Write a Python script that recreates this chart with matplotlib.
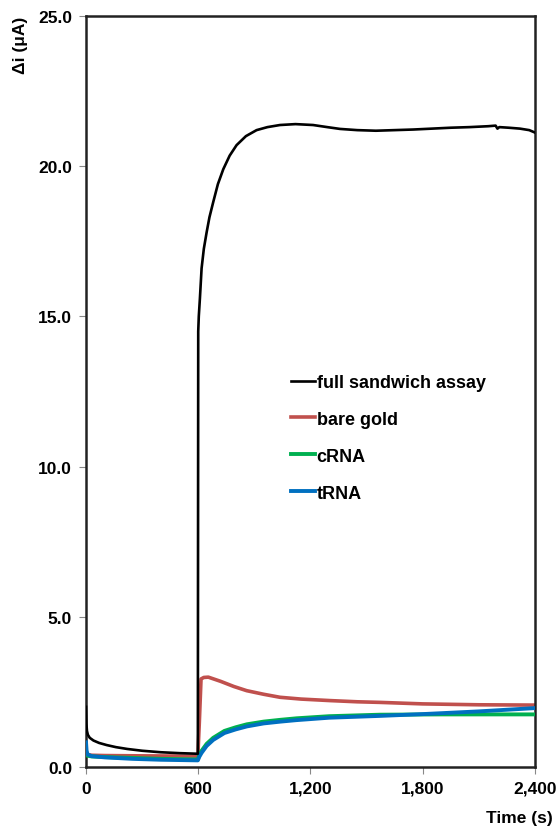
import matplotlib

matplotlib.use("Agg")
import matplotlib.pyplot as plt
from matplotlib.ticker import FuncFormatter, MultipleLocator

plt.rcParams["font.family"] = ["Liberation Sans", "DejaVu Sans"]
plt.rcParams["font.weight"] = "bold"

# values
t_full = [0, 2, 5, 10, 20, 40, 70, 110, 160, 220, 300, 400, 500, 598, 600, 603, 609, 618, 630,
          645, 660, 680, 705, 734, 768, 805, 855, 912, 970, 1037, 1120, 1214, 1290, 1358, 1450,
          1550, 1650, 1750, 1850, 1950, 2050, 2150, 2190, 2200, 2210, 2260, 2320, 2370, 2400]
full = [2.0, 1.45, 1.2, 1.07, 0.97, 0.88, 0.8, 0.73, 0.66, 0.6, 0.54, 0.49, 0.46, 0.44, 14.5, 15.0,
        15.6, 16.6, 17.25, 17.8, 18.3, 18.8, 19.4, 19.9, 20.35, 20.7, 21.0, 21.2, 21.3, 21.37,
        21.4, 21.37, 21.3, 21.24, 21.2, 21.18, 21.2, 21.22, 21.25, 21.28, 21.3, 21.33, 21.35,
        21.25, 21.3, 21.28, 21.25, 21.2, 21.12]

t_gold = [0, 5, 30, 100, 300, 598, 606, 615, 630, 654, 720, 790, 859, 950, 1037, 1150, 1304, 1450,
          1571, 1800, 2100, 2400]
gold = [0.5, 0.42, 0.39, 0.38, 0.37, 0.36, 1.5, 2.93, 2.98, 2.99, 2.85, 2.68, 2.54, 2.42, 2.32,
        2.26, 2.21, 2.17, 2.15, 2.1, 2.07, 2.06]

t_crna = [0, 5, 30, 100, 250, 400, 598, 605, 618, 645, 680, 740, 800, 860, 950, 1040, 1126, 1300,
          1571, 1900, 2200, 2400]
crna = [0.45, 0.38, 0.35, 0.33, 0.3, 0.27, 0.25, 0.38, 0.54, 0.77, 0.97, 1.2, 1.32, 1.42, 1.51,
        1.57, 1.62, 1.69, 1.74, 1.75, 1.75, 1.75]

t_trna = [0, 3, 8, 30, 100, 250, 400, 598, 605, 618, 645, 680, 740, 800, 860, 950, 1040, 1126,
          1300, 1571, 1800, 2100, 2400]
trna = [0.82, 0.55, 0.42, 0.36, 0.32, 0.27, 0.24, 0.22, 0.33, 0.47, 0.7, 0.9, 1.13, 1.25, 1.35,
        1.45, 1.51, 1.56, 1.64, 1.7, 1.76, 1.85, 1.96]

BLACK, RED, GREEN, BLUE = "#000000", "#C0504D", "#00B050", "#0070C0"

fig = plt.figure(figsize=(5.56, 8.28), dpi=100)
ax = fig.add_axes([0.1547, 0.0725, 0.8073, 0.907])

ax.plot(t_full, full, color=BLACK, lw=1.9, label="full sandwich assay", zorder=5)
ax.plot(t_gold, gold, color=RED, lw=2.6, label="bare gold", zorder=2)
ax.plot(t_crna, crna, color=GREEN, lw=2.8, label="cRNA", zorder=3)
ax.plot(t_trna, trna, color=BLUE, lw=2.8, label="tRNA", zorder=4)

ax.set_xlim(0, 2400)
ax.set_ylim(0, 25)
ax.xaxis.set_major_locator(MultipleLocator(600))
ax.yaxis.set_major_locator(MultipleLocator(5))
ax.xaxis.set_major_formatter(FuncFormatter(lambda v, p: f"{v:,.0f}"))
ax.yaxis.set_major_formatter(FuncFormatter(lambda v, p: f"{v:.1f}"))
ax.tick_params(direction="out", length=5, color="#888888", labelsize=12.5, pad=5)
for s in ax.spines.values():
    s.set_linewidth(1.8)
    s.set_color("#222222")

ax.text(-0.145, 1.0, "\u0394i (\u03bcA)", transform=ax.transAxes, rotation=90,
        ha="center", va="top", fontsize=12.5, fontweight="bold")
ax.text(1.04, -0.057, "Time (s)", transform=ax.transAxes, ha="right", va="top",
        fontsize=12.5, fontweight="bold")

ax.legend(loc="upper left", bbox_to_anchor=(0.42, 0.545), frameon=False,
          handlelength=1.33, handletextpad=0.1, labelspacing=1.1,
          prop={"weight": "bold", "size": 13})

fig.savefig("out.png", dpi=100)
